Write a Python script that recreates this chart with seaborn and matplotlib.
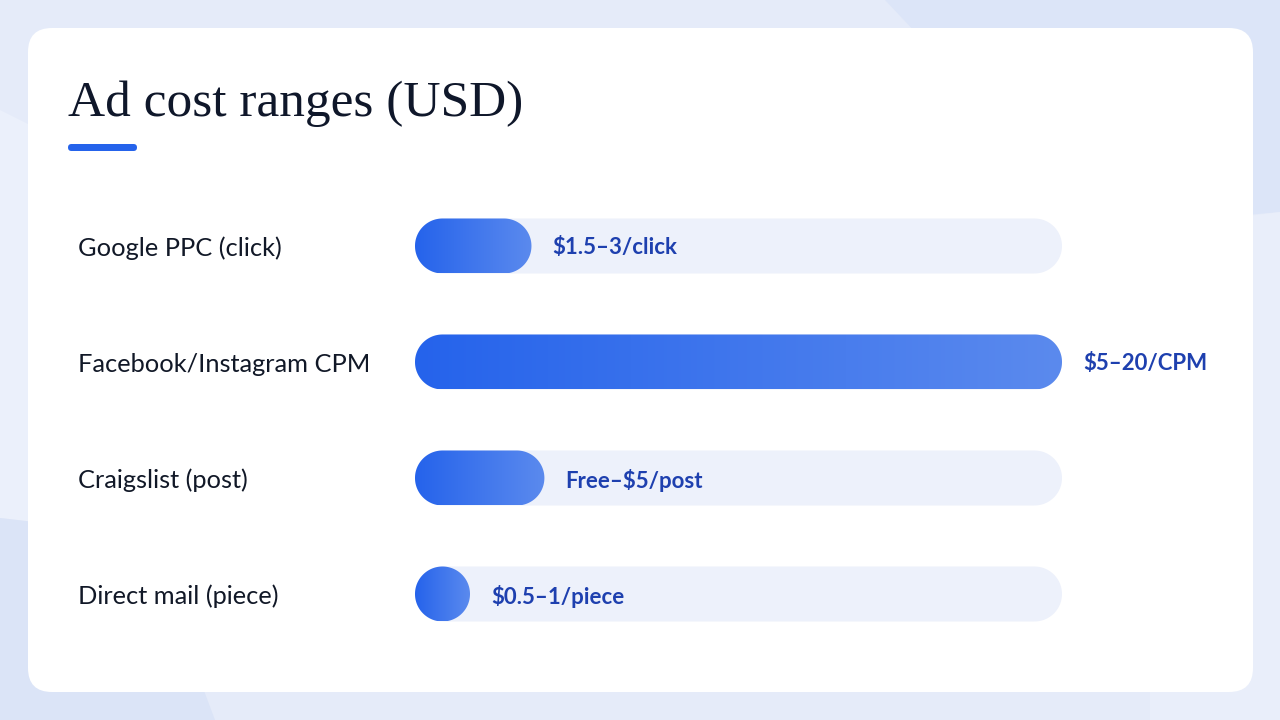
import numpy as np
import matplotlib
matplotlib.use('Agg')
import matplotlib.pyplot as plt
import seaborn as sns
from matplotlib.patches import FancyBboxPatch, Polygon
from matplotlib.colors import LinearSegmentedColormap

# data: midpoint of each cost range drives the bar length
categorias = ['Google PPC (click)', 'Facebook/Instagram CPM', 'Craigslist (post)', 'Direct mail (piece)']
valores = [2.25, 12.5, 2.5, 0.75]
rotulos = ['$1.5\u20133/click', '$5\u201320/CPM', 'Free\u2013$5/post', '$0.5\u20131/piece']
titulo = 'Ad cost ranges (USD)'

AZUL = '#2563eb'
AZUL_CLARO = '#5b8aee'
TRILHA = '#edf1fb'
TEXTO = '#111827'
TEXTO_VALOR = '#1e40af'
W, H = 1280, 720

sns.set_theme(style='white')
plt.rcParams['font.family'] = ['Lato', 'DejaVu Sans']

fig = plt.figure(figsize=(W / 100, H / 100), dpi=100)

# fundo + cartao em coordenadas de pixel
bg = fig.add_axes([0, 0, 1, 1])
bg.set_xlim(0, W)
bg.set_ylim(H, 0)
bg.axis('off')
bg.add_patch(Polygon([[0, 0], [W, 0], [W, H], [0, H]], closed=True, fc='#e5ebf9', ec='none'))
bg.add_patch(Polygon([[885, 0], [W, 0], [W, 212], [1100, 228]], closed=True, fc='#dce5f8', ec='none'))
bg.add_patch(Polygon([[0, 110], [60, 140], [60, 525], [0, 518]], closed=True, fc='#ebf0fb', ec='none'))
bg.add_patch(Polygon([[0, 518], [60, 525], [200, 680], [215, H], [0, H]], closed=True, fc='#dbe4f7', ec='none'))
bg.add_patch(Polygon([[1150, 228], [W, 212], [W, H], [1150, H]], closed=True, fc='#e9eefa', ec='none'))
bg.add_patch(FancyBboxPatch((28, 28), 1225, 664, boxstyle='round,pad=0,rounding_size=24',
                            fc='white', ec='none'))

bg.text(68, 116, titulo, fontsize=37, color='#0f172a', family=['Liberation Serif', 'DejaVu Serif'],
        va='baseline', ha='left')
bg.add_patch(FancyBboxPatch((68, 144), 69, 7, boxstyle='round,pad=0,rounding_size=3.5',
                            fc=AZUL, ec='none'))

# eixo das barras: trilha vai de 415px a 1062px
x0, x1 = 415, 1062
y_top, y_bot = 246 - 58, 594 + 58
ax = fig.add_axes([x0 / W, (H - y_bot) / H, (x1 - x0) / W, (y_bot - y_top) / H])
ax.patch.set_alpha(0)

maximo = max(valores)
altura = 55 / 116
sns.barplot(x=[maximo] * len(categorias), y=categorias, orient='h', width=altura,
            color=TRILHA, saturation=1, ax=ax)
sns.barplot(x=valores, y=categorias, orient='h', width=altura,
            color=AZUL, saturation=1, ax=ax)
ax.set_xlim(0, maximo)
ax.set_ylim(len(categorias) - 0.5, -0.5)

# pixels por unidade -> raio das pontas em unidades de dados
px_x = (x1 - x0) / maximo
px_y = (y_bot - y_top) / len(categorias)
ry = altura / 2
rx = ry * px_y / px_x


def capsula(bx, by, bw, bh, **kw):
    t = np.linspace(-np.pi / 2, np.pi / 2, 60)
    cy = by + bh / 2
    dir_ = np.c_[bx + bw - rx + rx * np.cos(t), cy + ry * np.sin(t)]
    esq = np.c_[bx + rx - rx * np.cos(t[::-1]), cy + ry * np.sin(t[::-1])]
    return Polygon(np.vstack([dir_, esq]), closed=True, ec='none', **kw)


cmap = LinearSegmentedColormap.from_list('grad', [AZUL, AZUL_CLARO])
gradiente = np.linspace(0, 1, 256).reshape(1, -1)

barras = list(ax.patches)
n = len(categorias)
for i, p in enumerate(barras):
    bx, by, bw, bh = p.get_x(), p.get_y(), p.get_width(), p.get_height()
    p.remove()
    bw = max(bw, 2 * rx)
    caps = capsula(bx, by, bw, bh, fc=TRILHA if i < n else 'none')
    ax.add_patch(caps)
    if i >= n:
        im = ax.imshow(gradiente, cmap=cmap, extent=(bx, bx + bw, by + bh, by),
                       aspect='auto', interpolation='bicubic', zorder=3)
        im.set_clip_path(caps)
        ax.annotate(rotulos[i - n], xy=(bx + bw, by + bh / 2), xytext=(15, 0),
                    textcoords='offset points', va='center_baseline', ha='left',
                    fontsize=16, fontweight='bold', color=TEXTO_VALOR)

ax.set_xlim(0, maximo)
ax.set_ylim(len(categorias) - 0.5, -0.5)
ax.set_xlabel('')
ax.set_ylabel('')
ax.set_xticks([])
sns.despine(ax=ax, left=True, bottom=True)
ax.tick_params(axis='y', length=0, pad=(x0 - 78) * 0.72, labelsize=18.3, labelcolor=TEXTO)
for lbl in ax.get_yticklabels():
    lbl.set_horizontalalignment('left')

fig.savefig('out.png', dpi=100)
